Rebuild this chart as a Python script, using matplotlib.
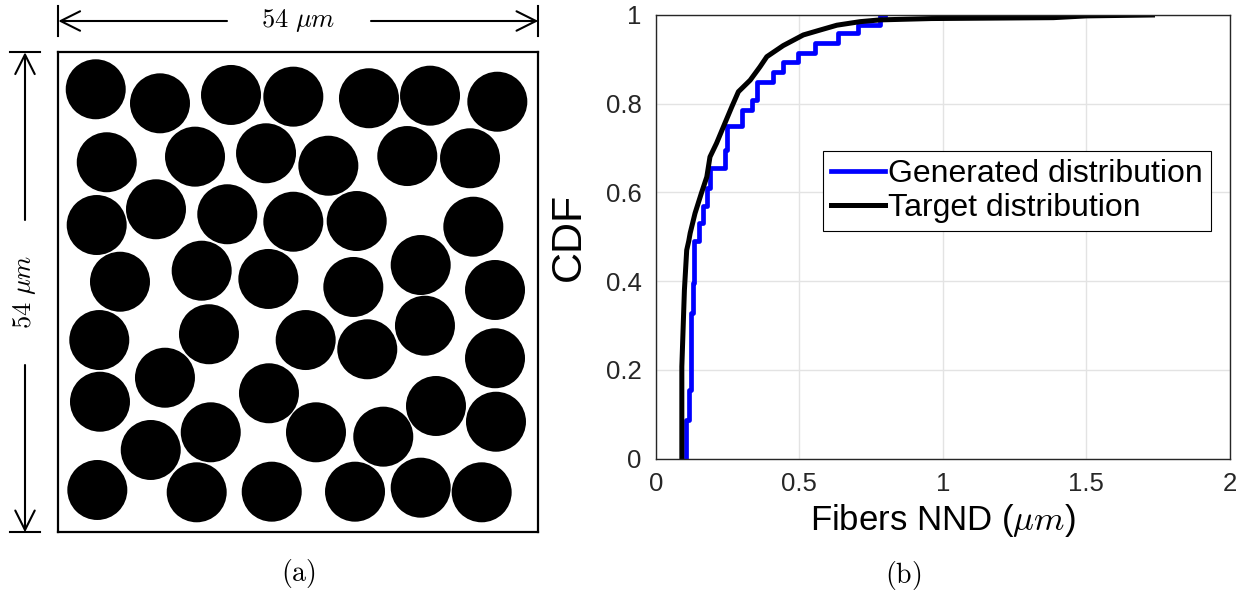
import matplotlib
matplotlib.use("Agg")
import matplotlib.pyplot as plt
from matplotlib.patches import Circle

plt.rcParams["font.family"] = ["Liberation Sans", "DejaVu Sans"]
plt.rcParams["mathtext.fontset"] = "cm"

# (a) fiber centres in micrometres, 54 x 54 um cell
box_size = 54.0
fiber_r = 3.375
fiber_x = [4.21, 11.44, 19.43, 26.44, 34.95, 41.82, 49.39,
           5.45, 15.38, 23.37, 30.38, 39.26, 46.32,
           4.32, 10.99, 19.01, 26.44, 33.57, 46.69,
           6.94, 16.13, 23.63, 33.19, 40.77, 49.13,
           4.61, 16.95, 27.83, 34.76, 41.25, 49.13,
           4.69, 12.00, 23.70, 42.49, 49.24,
           10.40, 17.15, 28.99, 36.56,
           4.39, 15.57, 24.01, 33.38, 40.77, 47.63]
fiber_y = [49.84, 48.26, 49.20, 49.01, 48.83, 49.12, 48.44,
           41.63, 42.26, 42.64, 41.24, 42.33, 42.08,
           34.57, 36.34, 35.78, 34.94, 35.02, 34.38,
           28.19, 29.43, 28.50, 27.60, 30.07, 27.26,
           21.63, 22.28, 21.63, 20.59, 23.24, 19.58,
           14.69, 17.39, 15.64, 14.21, 12.44,
           9.26, 11.25, 11.25, 10.76,
           4.76, 4.50, 4.57, 4.57, 5.02, 4.50]

# (b) CDF of nearest neighbour distance
gen_nnd = [0.107, 0.107, 0.117, 0.122, 0.131, 0.134, 0.150, 0.165, 0.178,
           0.190, 0.240, 0.250, 0.259, 0.300, 0.334, 0.352, 0.410, 0.445,
           0.497, 0.555, 0.636, 0.706, 0.782, 0.800]
gen_cdf = [0.0, 0.087, 0.155, 0.328, 0.396, 0.49, 0.53, 0.57, 0.61,
           0.654, 0.695, 0.75, 0.75, 0.786, 0.808, 0.850, 0.872, 0.895,
           0.914, 0.936, 0.959, 0.977, 1.0, 1.0]

tgt_nnd = [0.091, 0.091, 0.100, 0.108, 0.115, 0.120, 0.137, 0.159, 0.178,
           0.189, 0.212, 0.241, 0.265, 0.288, 0.329, 0.363, 0.387, 0.444,
           0.514, 0.572, 0.631, 0.712, 0.782, 0.960, 1.385, 1.500, 1.730]
tgt_cdf = [0.0, 0.207, 0.380, 0.470, 0.490, 0.508, 0.553, 0.598, 0.635,
           0.680, 0.711, 0.756, 0.793, 0.827, 0.853, 0.883, 0.906, 0.931,
           0.955, 0.966, 0.977, 0.985, 0.989, 0.992, 0.994, 0.998, 1.0]

W, H = 1245, 593
fig = plt.figure(figsize=(W / 100, H / 100), dpi=100)

# overlay in pixel coordinates for the dimension arrows and captions
ov = fig.add_axes([0, 0, 1, 1])
ov.set_xlim(0, W)
ov.set_ylim(H, 0)
ov.axis("off")

axa = fig.add_axes([58.3 / W, 1 - 532.3 / H, 480 / W, 480 / H])
for x, y in zip(fiber_x, fiber_y):
    axa.add_patch(Circle((x, y), fiber_r, color="black", lw=0))
axa.set_xlim(0, box_size)
axa.set_ylim(0, box_size)
axa.set_xticks([])
axa.set_yticks([])
for s in axa.spines.values():
    s.set_linewidth(1.6)
    s.set_color("black")

arrow = dict(arrowstyle="->,head_length=0.7,head_width=0.35", lw=1.5,
             color="black", shrinkA=0, shrinkB=0, mutation_scale=20)
# horizontal dimension
ov.annotate("", xy=(58.3, 21), xytext=(227, 21), arrowprops=arrow)
ov.annotate("", xy=(538.3, 21), xytext=(371, 21), arrowprops=arrow)
ov.plot([58.3, 58.3], [6, 36], color="black", lw=1.5)
ov.plot([538.3, 538.3], [6, 36], color="black", lw=1.5)
ov.text(298, 21, r"$54\ \mu m$", fontsize=19, ha="center", va="center")
# vertical dimension
ov.annotate("", xy=(25, 52.3), xytext=(25, 220), arrowprops=arrow)
ov.annotate("", xy=(25, 532.3), xytext=(25, 365), arrowprops=arrow)
ov.plot([10, 40], [52.3, 52.3], color="black", lw=1.5)
ov.plot([10, 40], [532.3, 532.3], color="black", lw=1.5)
ov.text(25, 292, r"$54\ \mu m$", fontsize=19, ha="center", va="center",
        rotation=90)
ov.text(298, 573, r"$(\mathrm{a})$", fontsize=20, ha="center", va="center")
ov.text(903, 575, r"$(\mathrm{b})$", fontsize=20, ha="center", va="center")

axb = fig.add_axes([655.7 / W, 1 - 458.5 / H, 574.3 / W, 443.5 / H])
axb.plot(gen_nnd, gen_cdf, color="#0000ff", lw=3.4, drawstyle="steps-post",
         label="Generated distribution")
axb.plot(tgt_nnd, tgt_cdf, color="black", lw=3.6,
         label="Target distribution")
axb.set_xlim(0, 2)
axb.set_ylim(0, 1)
axb.set_xticks([0, 0.5, 1, 1.5, 2])
axb.set_xticklabels(["0", "0.5", "1", "1.5", "2"])
axb.set_yticks([0, 0.2, 0.4, 0.6, 0.8, 1])
axb.set_yticklabels(["0", "0.2", "0.4", "0.6", "0.8", "1"])
axb.grid(True, color="#e3e3e3", lw=1.0)
axb.set_axisbelow(True)
axb.tick_params(length=0, labelsize=18.5, labelcolor="#262626", pad=10)
for s in axb.spines.values():
    s.set_color("#262626")
    s.set_linewidth(1.0)
axb.set_xlabel(r"Fibers NND ($\mu m$)", fontsize=25, labelpad=4)
axb.set_ylabel("CDF", fontsize=31, labelpad=12)
leg = axb.legend(loc="upper left", bbox_to_anchor=(0.291, 0.694),
                 borderaxespad=0, fontsize=23, frameon=True, fancybox=False,
                 framealpha=1, edgecolor="black", handlelength=1.7,
                 handletextpad=0.1, labelspacing=0.15, borderpad=0.25)
leg.get_frame().set_linewidth(0.8)

fig.savefig("out.png", dpi=100)
